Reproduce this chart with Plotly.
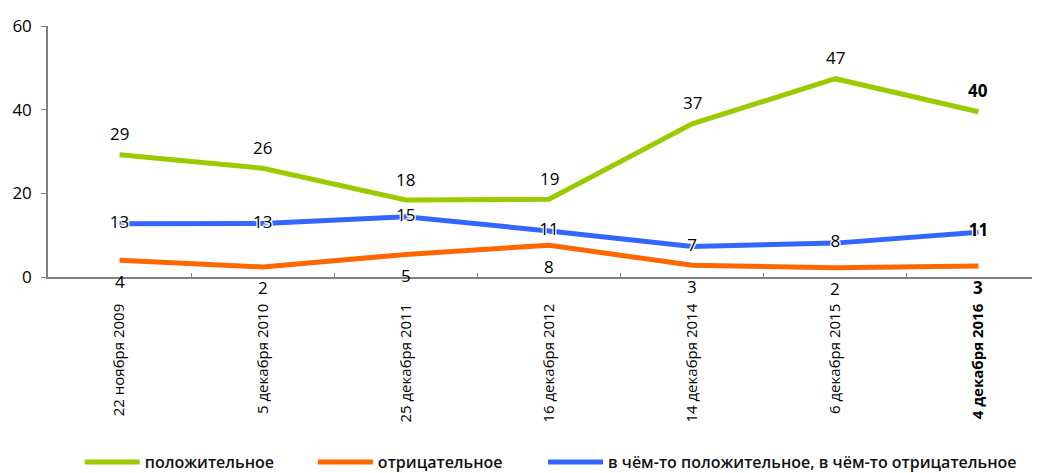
import plotly.graph_objects as go

categories = ["22 ноября 2009", "5 декабря 2010", "25 декабря 2011", "16 декабря 2012",
              "14 декабря 2014", "6 декабря 2015", "4 декабря 2016"]
positive = [29.2, 26.0, 18.4, 18.6, 36.6, 47.4, 39.5]
negative = [4.0, 2.4, 5.4, 7.6, 2.8, 2.2, 2.6]
mixed = [12.7, 12.8, 14.4, 11.0, 7.3, 8.1, 10.7]
pos_labels = ["29", "26", "18", "19", "37", "47", "40"]
neg_labels = ["4", "2", "5", "8", "3", "2", "3"]
mix_labels = ["13", "13", "15", "11", "7", "8", "11"]
tick_labels = categories[:-1] + ["<b>" + categories[-1] + "</b>"]

names = ["положительное", "отрицательное", "в чём-то положительное, в чём-то отрицательное"]
colors = ["#99CC00", "#FF6600", "#3366FF"]

LABEL_FONT = "Open Sans, Liberation Sans, sans-serif"


def bold_last(lbls):
    return lbls[:-1] + ["<b>" + lbls[-1] + "</b>"]


halo = ("1px 1px 0px #fff, -1px -1px 0px #fff, 1px -1px 0px #fff, -1px 1px 0px #fff, "
        "0px 2px 1px #fff, 0px -2px 1px #fff")

fig = go.Figure()
fig.add_trace(go.Scatter(
    x=categories, y=positive, name=names[0], mode="lines",
    line=dict(color=colors[0], width=5), legend="legend",
))
fig.add_trace(go.Scatter(
    x=categories, y=negative, name=names[1], mode="lines",
    line=dict(color=colors[1], width=5), legend="legend2",
))
fig.add_trace(go.Scatter(
    x=categories, y=mixed, name=names[2], mode="lines+text",
    text=bold_last(mix_labels), textposition="middle center",
    line=dict(color=colors[2], width=5),
    textfont=dict(family=LABEL_FONT, size=17, color="#000", shadow=halo),
    cliponaxis=False, legend="legend3",
))

for cat, val, lbl in zip(categories, positive, bold_last(pos_labels)):
    fig.add_annotation(x=cat, y=val, text=lbl, showarrow=False, yshift=21,
                       yanchor="middle", font=dict(family=LABEL_FONT, size=17, color="#000"))
for cat, val, lbl in zip(categories, negative, bold_last(neg_labels)):
    fig.add_annotation(x=cat, y=val, text=lbl, showarrow=False, yshift=-21,
                       yanchor="middle", font=dict(family=LABEL_FONT, size=17, color="#000"))

legend_style = dict(
    orientation="h", xanchor="left", yref="container", y=0.04, yanchor="middle",
    font=dict(family=LABEL_FONT, size=16, color="#111", weight=600),
    itemwidth=55, bgcolor="rgba(0,0,0,0)",
)

fig.update_layout(
    width=1040, height=473,
    margin=dict(l=40, r=8, t=18, b=204),
    paper_bgcolor="white", plot_bgcolor="white",
    font=dict(family=LABEL_FONT, color="#000"),
    showlegend=True,
    legend=dict(x=0.032, **legend_style),
    legend2=dict(x=0.267, **legend_style),
    legend3=dict(x=0.499, **legend_style),
    xaxis=dict(
        type="category", range=[-0.5, 6.43], automargin=False,
        tickmode="array", tickvals=categories, ticktext=tick_labels,
        tickangle=-90, tickson="boundaries", ticks="inside", ticklen=4,
        tickcolor="#808080", showline=True, linecolor="#808080", linewidth=1.5,
        showgrid=False, zeroline=False,
        tickfont=dict(family=LABEL_FONT, size=15, color="#000"),
        ticklabelstandoff=19,
    ),
    yaxis=dict(
        range=[0, 60], tickvals=[0, 20, 40, 60], ticks="outside", ticklen=5,
        automargin=False,
        tickcolor="#808080", showline=True, linecolor="#808080", linewidth=1.5,
        showgrid=False, zeroline=False,
        tickfont=dict(family=LABEL_FONT, size=17, color="#000"),
        ticklabelstandoff=6,
    ),
)

fig.write_html("out.html")
